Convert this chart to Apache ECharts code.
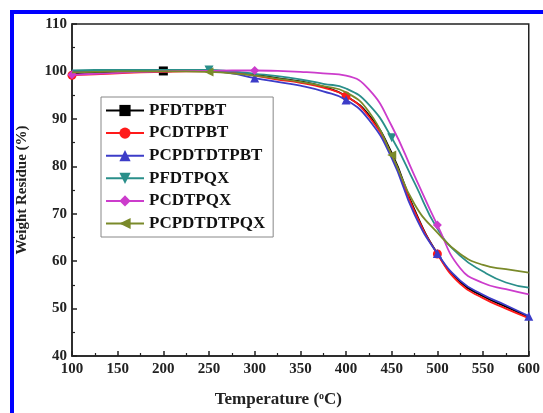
<!DOCTYPE html>
<html>
<head>
<meta charset="utf-8">
<script src="https://cdn.jsdelivr.net/npm/echarts@6/dist/echarts.min.js"></script>
<style>
  html, body { margin: 0; padding: 0; background: #fff; }
  #box { width: 543px; height: 413px; }
</style>
</head>
<body>
<div id="box"></div>
<script>
// 温度 (°C)
var temps = [100, 125, 150, 175, 200, 225, 250, 275, 300, 325, 350, 375, 400, 425, 450, 475, 500, 525, 550, 575, 600];

// 各聚合物的失重曲线
var PFDTPBT    = [99.6, 99.8, 99.9, 100, 100.1, 100.1, 100.1, 99.9, 99.3, 98.6, 97.9, 96.8, 94.8, 90.8, 82.8, 70.8, 61.6, 55.6, 52.6, 50.4, 48.2];
var PCDTPBT    = [99.2, 99.4, 99.6, 99.8, 99.9, 100, 100, 99.8, 99.1, 98.3, 97.6, 96.6, 94.8, 90.5, 82.3, 70.5, 61.5, 55.2, 52.2, 50.0, 48.0];
var PCPDTDTPBT = [100, 100.1, 100.2, 100.2, 100.2, 100.2, 100.1, 99.6, 98.6, 97.8, 97.0, 95.8, 94.0, 89.8, 81.7, 69.8, 61.6, 55.9, 52.9, 50.7, 48.4];
var PFDTPQX    = [100.2, 100.3, 100.3, 100.3, 100.3, 100.3, 100.3, 100, 99.5, 99.0, 98.3, 97.4, 96.4, 93.0, 86.0, 76.5, 66.8, 61.1, 57.8, 55.5, 54.4];
var PCDTPQX    = [99.3, 99.5, 99.7, 99.9, 100, 100.1, 100.1, 100.2, 100.2, 100.1, 99.9, 99.6, 99.1, 96.2, 88.5, 78.0, 67.6, 58.5, 55.4, 54.1, 53.0];
var PCPDTDTPQX = [99.8, 99.9, 100, 100, 100, 100, 99.9, 99.6, 99.1, 98.5, 97.8, 96.9, 95.6, 91.5, 82.4, 72.0, 66.0, 61.5, 59.2, 58.3, 57.6];

// 图上能看到标记点的温度
var marks = {
    PFDTPBT: [200],
    PCDTPBT: [100, 400, 500],
    PCPDTDTPBT: [300, 400, 500, 600],
    PFDTPQX: [250, 450],
    PCDTPQX: [100, 300, 500],
    PCPDTDTPQX: [250, 450]
};

var names = ['PFDTPBT', 'PCDTPBT', 'PCPDTDTPBT', 'PFDTPQX', 'PCDTPQX', 'PCPDTDTPQX'];
var values = [PFDTPBT, PCDTPBT, PCPDTDTPBT, PFDTPQX, PCDTPQX, PCPDTDTPQX];
var colors = ['#000000', '#ff1a1a', '#3c3cc8', '#2a8f8a', '#cc3ccc', '#7a8a2a'];
var symbols = ['rect', 'circle', 'triangle', 'path://M0,0 L10,0 L5,9 Z', 'diamond', 'path://M9,0 L9,10 L0,5 Z'];

var serif = '"Liberation Serif", "Times New Roman", serif';

var myChart = echarts.init(document.getElementById('box'));

var series = names.map(function (n, i) {
    return {
        name: n,
        type: 'line',
        smooth: 0.5,
        showAllSymbol: true,
        symbol: symbols[i],
        symbolSize: function (val) {
            return marks[n].indexOf(val[0]) >= 0 ? 9 : 0;
        },
        data: temps.map(function (t, k) { return [t, values[i][k]]; }),
        itemStyle: { color: colors[i] },
        lineStyle: { color: colors[i], width: 1.8 },
        z: 2 + i
    };
});

var option = {
    animation: false,
    graphic: [
        // 外面的蓝色边框
        { type: 'rect', shape: { x: 10, y: 10, width: 533, height: 4 }, style: { fill: '#0000ff' } },
        { type: 'rect', shape: { x: 10, y: 10, width: 4, height: 403 }, style: { fill: '#0000ff' } }
    ],
    grid: {
        left: 72,
        right: 14,
        top: 24,
        bottom: 54,
        show: true,
        borderColor: '#222',
        borderWidth: 1.5
    },
    legend: {
        orient: 'vertical',
        left: 101,
        top: 97,
        width: 170,
        padding: [5, 8, 5, 4],
        itemWidth: 38,
        itemHeight: 14,
        itemGap: 5.6,
        borderColor: '#888',
        borderWidth: 1,
        textStyle: { fontFamily: serif, fontWeight: 'bold', fontSize: 17, color: '#111' },
        data: names
    },
    xAxis: {
        type: 'value',
        min: 100,
        max: 600,
        interval: 50,
        name: '{a|Temperature (}{s|o}{a|C)}',
        nameLocation: 'middle',
        nameGap: 35,
        nameTextStyle: {
            padding: [0, 44, 0, 0],
            rich: {
                a: { fontFamily: serif, fontWeight: 'bold', fontSize: 17, color: '#222' },
                s: { fontFamily: serif, fontWeight: 'bold', fontSize: 10, color: '#222', verticalAlign: 'top', padding: [0, 0, 7, 0] }
            }
        },
        axisLine: { lineStyle: { color: '#222', width: 1.5 } },
        axisTick: { inside: true, length: 5, lineStyle: { color: '#222', width: 1.5 } },
        minorTick: { show: true, splitNumber: 2, length: 3, lineStyle: { color: '#222', width: 1.2 } },
        axisLabel: { fontFamily: serif, fontWeight: 'bold', fontSize: 15, color: '#222', margin: 6 },
        splitLine: { show: false }
    },
    yAxis: {
        type: 'value',
        min: 40,
        max: 110,
        interval: 10,
        name: 'Weight Residue (%)',
        nameLocation: 'middle',
        nameGap: 42,
        nameTextStyle: { fontFamily: serif, fontWeight: 'bold', fontSize: 15, color: '#222' },
        axisLine: { lineStyle: { color: '#222', width: 1.5 } },
        axisTick: { inside: true, length: 5, lineStyle: { color: '#222', width: 1.5 } },
        minorTick: { show: true, splitNumber: 2, length: 3, lineStyle: { color: '#222', width: 1.2 } },
        axisLabel: { fontFamily: serif, fontWeight: 'bold', fontSize: 15, color: '#222', margin: 5 },
        splitLine: { show: false }
    },
    series: series
};

myChart.setOption(option);
</script>
</body>
</html>
